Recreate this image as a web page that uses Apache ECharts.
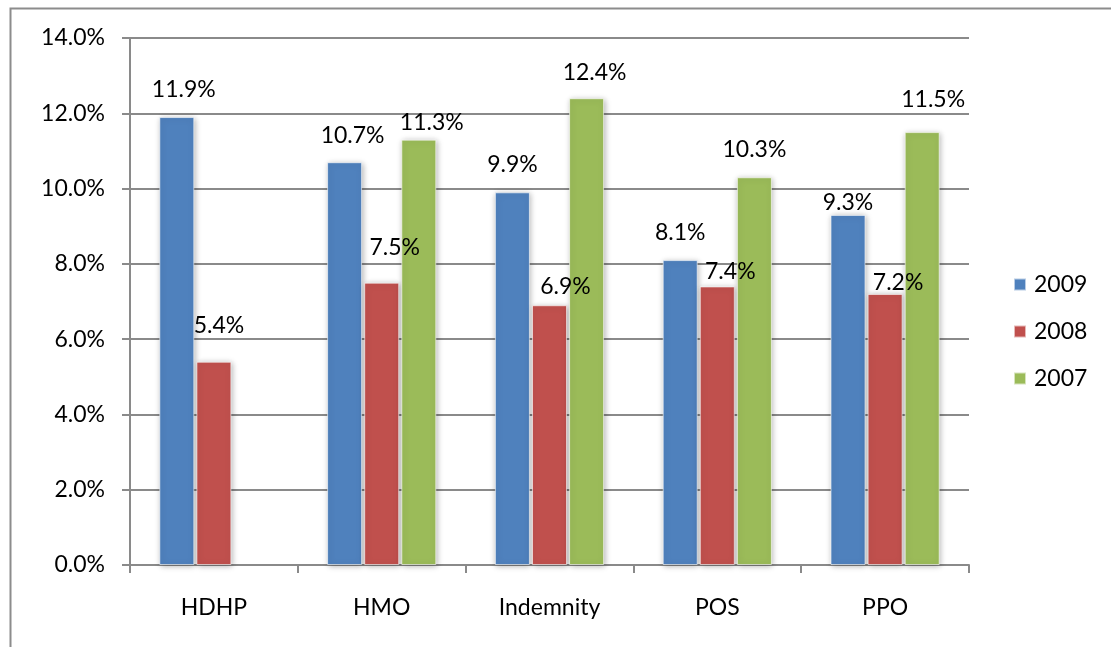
<!DOCTYPE html>
<html>
<head>
<meta charset="utf-8">
<script src="https://cdn.jsdelivr.net/npm/echarts@6/dist/echarts.min.js"></script>
<style>
  html, body { margin: 0; padding: 0; background: #fff; }
  #chart { width: 1111px; height: 647px; }
</style>
</head>
<body>
<div id="chart"></div>
<script>
const categories = ['HDHP', 'HMO', 'Indemnity', 'POS', 'PPO'];
const seriesNames = ['2009', '2008', '2007'];
const values2009 = [11.9, 10.7, 9.9, 8.1, 9.3];
const values2008 = [5.4, 7.5, 6.9, 7.4, 7.2];
const values2007 = [null, 11.3, 12.4, 10.3, 11.5];
const colors = ['#4F81BD', '#C0504D', '#9BBB59'];

// hand placed label nudges [dx, dy] as in the original
const labelNudge = [
  [[7, -2], [8, -1], [0, -2], [0, -2], [0, 13]],
  [[5, -11], [13, -10], [16, 7], [13, 11], [13, 14]],
  [[0, 0], [13, 8], [8, 0], [0, -2], [11, -7]]
];

const font = 'Lato, "Open Sans", sans-serif';
const gridColor = '#8a8a8a';

function makeSeries(idx, data) {
  return {
    name: seriesNames[idx],
    type: 'bar',
    data: data.map((v, i) => ({
      value: v,
      label: { offset: labelNudge[idx][i] }
    })),
    barWidth: 35,
    barGap: '6%',
    itemStyle: {
      color: colors[idx],
      borderColor: 'rgba(255,255,255,0.6)',
      borderWidth: 1,
      shadowBlur: 6,
      shadowColor: 'rgba(0,0,0,0.3)',
      shadowOffsetX: 1,
      shadowOffsetY: 1
    },
    label: {
      show: true,
      position: 'top',
      distance: 14,
      fontFamily: font,
      fontSize: 23,
      color: '#000',
      formatter: p => p.value.toFixed(1) + '%'
    }
  };
}

const chart = echarts.init(document.getElementById('chart'));
chart.setOption({
  animation: false,
  textStyle: { fontFamily: font },
  graphic: [{
    type: 'rect',
    shape: { x: 10.5, y: 8.5, width: 1300, height: 1000 },
    style: { fill: 'none', stroke: '#8c8c8c', lineWidth: 2 },
    silent: true
  }],
  legend: {
    orient: 'vertical',
    left: 1008,
    top: 268,
    itemWidth: 12,
    itemHeight: 12,
    itemGap: 24,
    icon: 'rect',
    textStyle: { fontFamily: font, fontSize: 23, color: '#000', padding: [0, 0, 0, 3] },
    data: seriesNames
  },
  grid: { left: 130, top: 38, right: 142, bottom: 82 },
  xAxis: {
    type: 'category',
    data: categories,
    axisLine: { lineStyle: { color: gridColor, width: 2 } },
    axisTick: { show: true, length: 8, lineStyle: { color: gridColor, width: 2 } },
    axisLabel: { fontFamily: font, fontSize: 23, color: '#000', margin: 31 }
  },
  yAxis: {
    type: 'value',
    min: 0,
    max: 14,
    interval: 2,
    axisLine: { show: true, lineStyle: { color: gridColor, width: 2 } },
    axisTick: { show: true, length: 8, lineStyle: { color: gridColor, width: 2 } },
    splitLine: { lineStyle: { color: gridColor, width: 2 } },
    axisLabel: {
      fontFamily: font, fontSize: 23, color: '#000', margin: 25,
      formatter: v => v.toFixed(1) + '%'
    }
  },
  series: [
    makeSeries(0, values2009),
    makeSeries(1, values2008),
    makeSeries(2, values2007)
  ]
});
</script>
</body>
</html>
